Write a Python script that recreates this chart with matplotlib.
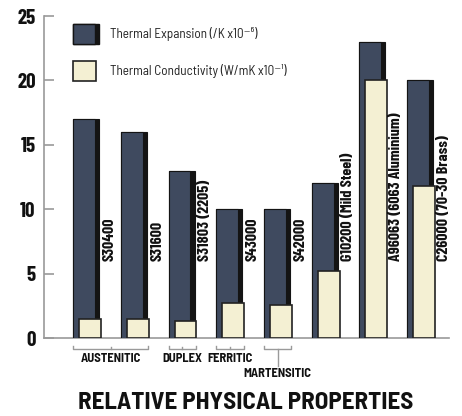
import matplotlib
matplotlib.use("Agg")
import matplotlib.pyplot as plt
from matplotlib.patches import Rectangle
import matplotlib.transforms as mtransforms

# condensed faces to get close to the original's Helvetica Condensed look
plt.rcParams['font.family'] = ['Barlow Condensed', 'DejaVu Sans']
SEMI = ['Barlow Semi Condensed', 'DejaVu Sans']

# data
grades = ["S30400", "S31600", "S31803 (2205)", "S43000", "S42000",
          "G10200 (Mild Steel)", "A96063 (6063 Aluminium)", "C26000 (70-30 Brass)"]
expansion = [17, 16, 13, 10, 10, 12, 23, 20]
conductivity = [1.5, 1.5, 1.3, 2.7, 2.6, 5.2, 20, 11.8]
groups = ["AUSTENITIC", "DUPLEX", "FERRITIC", "MARTENSITIC"]
group_members = [[0, 1], [2], [3], [4]]
yticks = [0, 5, 10, 15, 20, 25]

DARK = "#3f4a5f"
SHADOW = "#141414"
LIGHT = "#f4f0d3"
EDGE = "#222222"
GREY = "#9a9a9a"
INK = "#111111"

fig = plt.figure(figsize=(4.62, 4.16), dpi=100)
ax = fig.add_axes([44 / 462, 78 / 416, 405 / 462, 322 / 416])

x = list(range(len(grades)))
w_dark = 0.545
w_front = 0.46
off_light = 0.126
w_light = 0.46

# dark bars with black shadow on the right side
ax.bar(x, expansion, width=w_dark, align='edge', color=SHADOW, edgecolor=SHADOW, linewidth=0.8, zorder=2)
ax.bar(x, expansion, width=w_front, align='edge', color=DARK, edgecolor=SHADOW, linewidth=0.8, zorder=3)
ax.bar([i + off_light for i in x], conductivity, width=w_light, align='edge',
       color=LIGHT, edgecolor=EDGE, linewidth=1.2, zorder=4)

for i, name in enumerate(grades):
    ax.text(i + 0.77, 6, name, rotation=90, ha='center', va='bottom',
            fontsize=11.5, fontweight='bold', color=INK, zorder=5)

ax.set_xlim(-0.61, 7.88)
ax.set_ylim(0, 25)
ax.set_yticks(yticks)
ax.set_xticks([])
for side in ['top', 'right']:
    ax.spines[side].set_visible(False)
for side in ['left', 'bottom']:
    ax.spines[side].set_color(GREY)
    ax.spines[side].set_linewidth(1.2)
ax.tick_params(axis='y', direction='in', length=7, width=1.2, color=GREY, pad=6,
               labelsize=15)
for lab in ax.get_yticklabels():
    lab.set_fontweight('bold')
    lab.set_color(INK)

# legend, drawn by hand so the dark swatch gets its shadow
tA = ax.transAxes
ax.add_patch(Rectangle((0.0716, 0.913), 0.064, 0.062, transform=tA, color=SHADOW, clip_on=False, zorder=5))
ax.add_patch(Rectangle((0.0716, 0.913), 0.054, 0.062, transform=tA, facecolor=DARK, edgecolor=SHADOW,
                       linewidth=1, clip_on=False, zorder=6))
ax.add_patch(Rectangle((0.0716, 0.798), 0.057, 0.062, transform=tA, facecolor=LIGHT, edgecolor=EDGE,
                       linewidth=1.2, clip_on=False, zorder=6))
ax.text(0.163, 0.944, "Thermal Expansion (/K x10\u207b\u2076)", transform=tA, ha='left', va='center',
        fontsize=9.5, family=SEMI, color='#222222')
ax.text(0.163, 0.829, "Thermal Conductivity (W/mK x10\u207b\u00b9)", transform=tA, ha='left', va='center',
        fontsize=9.5, family=SEMI, color='#222222')

# group brackets under the axis
tB = mtransforms.blended_transform_factory(ax.transData, ax.transAxes)
for gname, members in zip(groups, group_members):
    x0 = members[0]
    x1 = members[-1] + 0.575
    xc = (x0 + x1) / 2
    ax.plot([x0, x0, x1, x1], [-0.024, -0.034, -0.034, -0.024], transform=tB, color=GREY,
            linewidth=1, clip_on=False)
    if gname == "MARTENSITIC":
        ax.plot([xc, xc], [-0.034, -0.088], transform=tB, color=GREY, linewidth=1, clip_on=False)
        ty = -0.109
    else:
        ax.plot([xc, xc], [-0.034, -0.028], transform=tB, color=GREY, linewidth=1, clip_on=False)
        ty = -0.065
    ax.text(xc, ty, gname, transform=tB, ha='center', va='center', fontsize=9,
            family=SEMI, fontweight='bold', color=INK)

fig.text(246 / 462, 1 - 403 / 416, "RELATIVE PHYSICAL PROPERTIES", ha='center', va='center',
         fontsize=18, family=SEMI, fontweight='bold', color=INK)

fig.savefig("out.png", dpi=100)
